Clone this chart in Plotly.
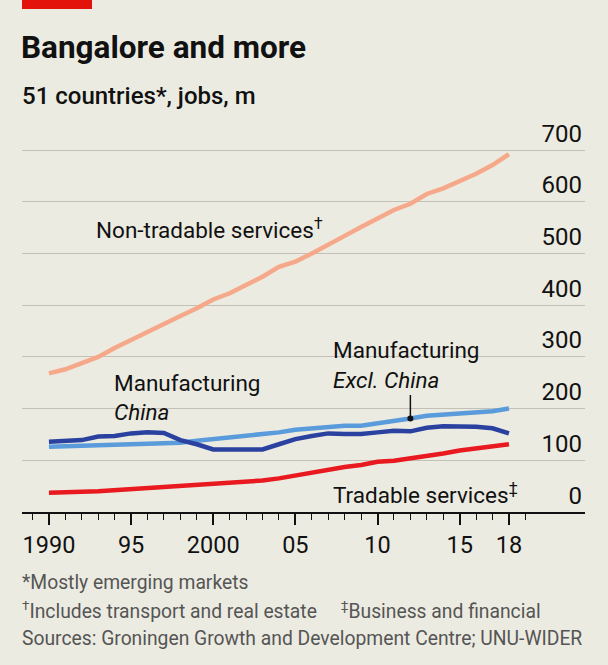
import plotly.graph_objects as go

years = list(range(1990, 2019))

non_tradable = [268, 276, 288, 300, 317, 333, 349, 365, 379, 394,
                411, 423, 439, 455, 474, 484, 500, 516, 534, 551,
                568, 584, 596, 615, 626, 639, 654, 671, 692]
manuf_china = [136, 137, 139, 146, 147, 152, 154, 153, 139, 131,
               121, 121, 121, 121, 131, 141, 147, 152, 151, 151,
               154, 157, 156, 163, 166, 166, 165, 162, 152]
manuf_excl_china = [126, 127, 128, 129, 131, 132, 133, 134, 134, 138,
                    141, 144, 146, 149, 154, 159, 162, 165, 167, 167,
                    171, 176, 181, 186, 188, 190, 191, 195, 200]
tradable = [37, 39, 39, 40, 42, 45, 47, 50, 51, 52,
            55, 57, 58, 61, 65, 71, 75, 81, 87, 91,
            97, 99, 103, 108, 113, 119, 123, 128, 131]

x_tickvals = [1990, 1995, 2000, 2005, 2010, 2015, 2018]
x_ticktext = ["1990", "95", "2000", "05", "10", "15", "18"]
y_tickvals = [0, 100, 200, 300, 400, 500, 600, 700]

BG = "#ECEBE1"
FONT = "Roboto"
W, H = 608, 665
L, R, T, B = 22, 23, 104, 153


def px(x):
    return (x - L) / (W - L - R)


def py(y):
    return 1 - (y - T) / (H - T - B)


fig = go.Figure()
series = [
    (non_tradable, "#F6A98A"),
    (manuf_excl_china, "#5A9BDB"),
    (manuf_china, "#2A41A0"),
    (tradable, "#E8191F"),
]
for vals, col in series:
    fig.add_trace(go.Scatter(x=years, y=vals, mode="lines",
                             line=dict(color=col, width=4.5), hoverinfo="skip"))

# pointer dot for "Excl. China"
fig.add_trace(go.Scatter(x=[2012], y=[manuf_excl_china[years.index(2012)]], mode="markers",
                         marker=dict(color="#111111", size=6), hoverinfo="skip"))

shapes = [
    # red tag
    dict(type="rect", xref="paper", yref="paper", x0=px(22), x1=px(92), y0=py(0), y1=py(9),
         fillcolor="#E3120B", line_width=0, layer="above"),
    # gaps in gridlines behind labels
    dict(type="rect", xref="paper", yref="paper", x0=px(314), x1=px(498), y0=py(364), y1=py(340),
         fillcolor=BG, line_width=0, layer="between"),
    dict(type="rect", xref="paper", yref="paper", x0=px(101), x1=px(186), y0=py(422), y1=py(402),
         fillcolor=BG, line_width=0, layer="between"),
    # pointer line
    dict(type="line", xref="x", yref="paper", x0=2012, x1=2012, y0=py(395),
         y1=py(418), line=dict(color="#111111", width=1.5)),
]

anns = []


def label(text, x, y, size=22, color="#111111", italic=False, weight=None):
    f = dict(family=FONT, size=size, color=color)
    if italic:
        f["style"] = "italic"
    if weight:
        f["weight"] = weight
    anns.append(dict(text=text, xref="paper", yref="paper", x=px(x), y=py(y),
                     xanchor="left", yanchor="middle", showarrow=False, font=f))


label("Bangalore and more", 19, 47, size=31.5, weight=700)
label("51 countries*, jobs, m", 20, 96, size=24, weight=500)
label("Non-tradable services<sup>†</sup>", 94, 228, size=22.5)
label("Manufacturing", 331, 350, size=22.5)
label("Excl. China", 331, 380, size=22.5, italic=True)
label("Manufacturing", 112, 383, size=22.5)
label("China", 112, 412, size=22.5, italic=True)
label("Tradable services<sup>‡</sup>", 331, 493, size=22.5)
label("*Mostly emerging markets", 20, 582, size=19.3, color="#555555")
label("<sup>†</sup>Includes transport and real estate     <sup>‡</sup>Business and financial",
      20, 610, size=19.3, color="#555555")
label("Sources: Groningen Growth and Development Centre; UNU-WIDER", 20, 638, size=19.3,
      color="#555555")

fig.update_layout(
    width=W, height=H,
    margin=dict(l=L, r=R, t=T, b=B),
    paper_bgcolor=BG, plot_bgcolor=BG,
    showlegend=False,
    shapes=shapes,
    annotations=anns,
    font=dict(family=FONT, color="#111111"),
    xaxis=dict(
        range=[1988.36, 2022.63],
        tickvals=x_tickvals, ticktext=x_ticktext,
        ticks="outside", ticklen=11, tickwidth=1.8, tickcolor="#111111",
        minor=dict(dtick=1, ticks="outside", ticklen=6, tickwidth=1.4, tickcolor="#111111"),
        showgrid=False, zeroline=False,
        showline=True, linecolor="#111111", linewidth=2,
        tickfont=dict(size=23.5, color="#111111"),
        fixedrange=True,
    ),
    yaxis=dict(
        range=[0, 789],
        tickvals=y_tickvals,
        side="right",
        ticklabelposition="inside top",
        showgrid=True, gridcolor="#C3C1B7", gridwidth=1,
        zeroline=False, showline=False, ticks="",
        tickfont=dict(size=24, color="#111111"),
        fixedrange=True,
    ),
)

fig.write_html("out.html", config={"displayModeBar": False},
               post_script="document.body.style.margin='0';"
                           "document.body.style.background='" + BG + "';")
